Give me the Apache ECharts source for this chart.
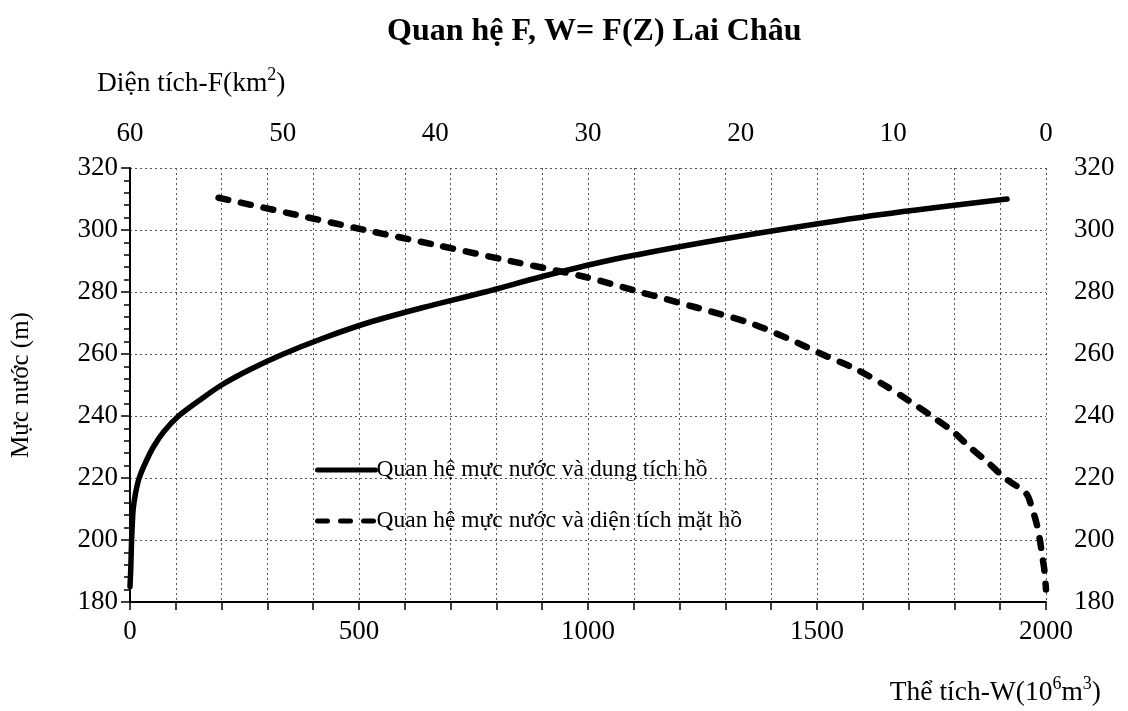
<!DOCTYPE html>
<html>
<head>
<meta charset="utf-8">
<script src="https://cdn.jsdelivr.net/npm/echarts@6/dist/echarts.min.js"></script>
<style>html,body{margin:0;padding:0;background:#fff}#c{width:1128px;height:711px}</style>
</head>
<body>
<div id="c"></div>
<script>
// Solid curve: water level Z (m) vs storage W (10^6 m3)
const zStorage = [185, 190, 195, 200, 205, 210, 215, 220, 225, 230, 235, 240, 245, 250, 255, 260, 265, 270, 275, 280, 285, 290, 295, 300, 305, 310];
const wStorage = [0, 1.5, 2.5, 3.5, 5, 7, 12, 20, 34, 51, 74, 106, 151, 200, 262, 335, 420, 518, 640, 775, 900, 1040, 1215, 1415, 1640, 1915];
// Dashed curve: water level Z (m) vs surface area F (km2)
const zArea = [310.4, 305, 300, 295, 290, 285, 280, 275, 270, 265, 260, 255, 250, 245, 240, 235, 230, 225, 220, 215, 210, 205, 200, 195, 190, 184];
const fArea = [54.2, 49.2, 44.6, 39.8, 35.1, 30.3, 26.6, 22.9, 19.4, 16.9, 14.7, 12.4, 10.6, 9.0, 7.5, 6.1, 5.0, 3.8, 2.7, 1.3, 0.9, 0.6, 0.4, 0.25, 0.1, 0];
const seriesNames = ['Quan hệ mực nước và dung tích hồ', 'Quan hệ mực nước và diện tích mặt hồ'];
const titleText = 'Quan hệ F, W= F(Z) Lai Châu';
const nameF = ['Diện tích-F(km', '2', ')'];
const nameW = ['Thể tích-W(10', '6', 'm', '3', ')'];
const nameZ = 'Mực nước (m)';

const FONT = 'Liberation Serif';
const TICK = 27;
const grid = {left: 130, right: 82, top: 168, bottom: 109};
const dotted = {type: [2, 3], color: '#555', width: 1};
const rich = {
  a: {fontFamily: FONT, fontWeight: 'normal', fontSize: 27.5, color: '#000', lineHeight: 32, verticalAlign: 'bottom'},
  s: {fontFamily: FONT, fontWeight: 'normal', fontSize: 18, color: '#000', lineHeight: 32, verticalAlign: 'top'}
};
const chart = echarts.init(document.getElementById('c'), null, {renderer: 'canvas'});
chart.setOption({
  backgroundColor: '#fff',
  animation: false,
  title: [
    {text: titleText, left: 382, top: 11, textStyle: {fontFamily: FONT, fontWeight: 'bold', fontSize: 32, color: '#000'}},
    {text: '{a|' + nameF[0] + '}{s|' + nameF[1] + '}{a|' + nameF[2] + '}', left: 92, top: 61, textStyle: {fontWeight: 'normal', rich: rich}},
    {text: '{a|' + nameW[0] + '}{s|' + nameW[1] + '}{a|' + nameW[2] + '}{s|' + nameW[3] + '}{a|' + nameW[4] + '}', right: 22, top: 670, textStyle: {fontWeight: 'normal', rich: rich}}
  ],
  legend: {
    orient: 'vertical', left: 310, top: 453, itemGap: 27, itemWidth: 58, itemHeight: 14,
    textStyle: {fontFamily: FONT, fontSize: 23.5, color: '#000', padding: [0, 0, 0, -4]},
    itemStyle: {opacity: 0},
    lineStyle: {width: 5},
    data: seriesNames
  },
  grid: grid,
  xAxis: [
    {type: 'value', min: 0, max: 2000, interval: 500, position: 'bottom',
     axisLine: {show: true, onZero: false, lineStyle: {color: '#000', width: 2}},
     axisTick: {show: true, length: 8, lineStyle: {color: '#000', width: 1.5}},
     minorTick: {show: true, splitNumber: 5, length: 8, lineStyle: {color: '#000', width: 1.5}},
     splitLine: {show: true, lineStyle: dotted},
     minorSplitLine: {show: true, lineStyle: dotted},
     axisLabel: {fontFamily: FONT, fontSize: TICK, color: '#000', margin: 16, formatter: v => String(v)}},
    {type: 'value', min: 0, max: 60, interval: 10, position: 'top', inverse: true,
     axisLine: {show: false}, axisTick: {show: false}, splitLine: {show: false},
     axisLabel: {fontFamily: FONT, fontSize: TICK, color: '#000', margin: 21}}
  ],
  yAxis: [
    {type: 'value', min: 180, max: 320, interval: 20, position: 'left',
     name: nameZ, nameLocation: 'middle', nameGap: 96, nameRotate: 90,
     nameTextStyle: {fontFamily: FONT, fontSize: 25, color: '#000'},
     axisLine: {show: true, onZero: false, lineStyle: {color: '#000', width: 2}},
     axisTick: {show: true, length: 9, lineStyle: {color: '#000', width: 1.5}},
     minorTick: {show: true, splitNumber: 5, length: 6, lineStyle: {color: '#000', width: 1.5}},
     splitLine: {show: true, lineStyle: dotted},
     axisLabel: {fontFamily: FONT, fontSize: TICK, color: '#000', margin: 12}},
    {type: 'value', min: 180, max: 320, interval: 20, position: 'right',
     axisLine: {show: false}, axisTick: {show: false}, splitLine: {show: false},
     axisLabel: {fontFamily: FONT, fontSize: TICK, color: '#000', margin: 28}}
  ],
  series: [
    {name: seriesNames[0], type: 'line', xAxisIndex: 0, yAxisIndex: 0, smooth: 0.3, symbol: 'none',
     lineStyle: {color: '#000', width: 5.5, cap: 'round'}, itemStyle: {color: '#000'},
     data: wStorage.map((w, i) => [w, zStorage[i]])},
    {name: seriesNames[1], type: 'line', xAxisIndex: 1, yAxisIndex: 0, smooth: 0.3, symbol: 'none',
     lineStyle: {color: '#000', width: 6.5, type: [10, 13], cap: 'round'}, itemStyle: {color: '#000'},
     data: fArea.map((f, i) => [f, zArea[i]])}
  ]
});
</script>
</body>
</html>
